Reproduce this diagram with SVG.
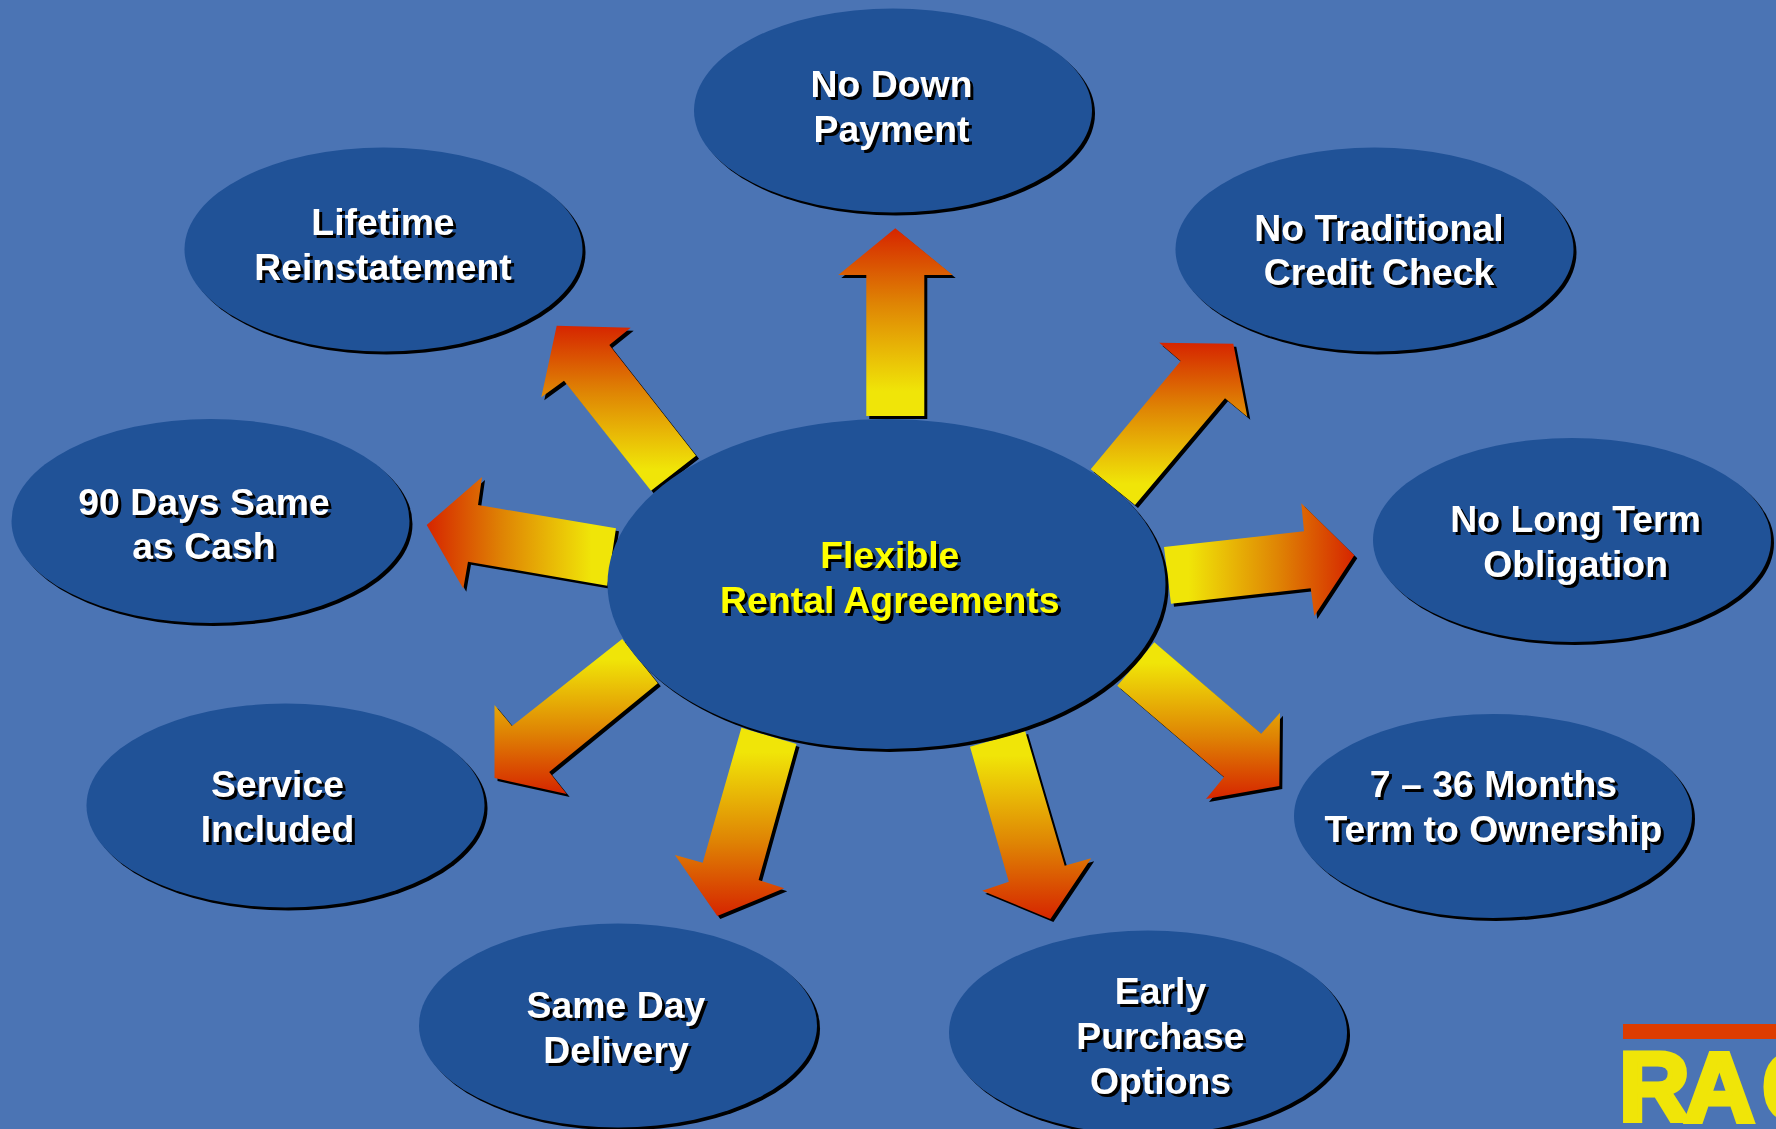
<svg xmlns="http://www.w3.org/2000/svg" width="1776" height="1129" viewBox="0 0 1776 1129">
<style>
.n{fill:#205297;filter:url(#sh)}
.t{font-family:"Liberation Sans",Arial,sans-serif;font-weight:700;font-size:37.4px;fill:#fff;text-anchor:middle;filter:url(#sh)}
.y{fill:#ffff00}
</style>
<defs>
<filter id="sh" x="-10%" y="-10%" width="120%" height="120%" color-interpolation-filters="sRGB"><feDropShadow dx="3" dy="3" stdDeviation="0.4" flood-color="#000"/></filter>
<linearGradient id="gu" x1="0" y1="1" x2="0" y2="0"><stop offset="0.13" stop-color="#F0E508"/><stop offset="0.6" stop-color="#DF8404"/><stop offset="1" stop-color="#D62500"/></linearGradient>
<linearGradient id="gd" x1="0" y1="0" x2="0" y2="1"><stop offset="0.13" stop-color="#F0E508"/><stop offset="0.6" stop-color="#DF8404"/><stop offset="1" stop-color="#D62500"/></linearGradient>
<linearGradient id="gl" x1="1" y1="0" x2="0" y2="0"><stop offset="0.13" stop-color="#F0E508"/><stop offset="0.6" stop-color="#DF8404"/><stop offset="1" stop-color="#D62500"/></linearGradient>
<linearGradient id="gr" x1="0" y1="0" x2="1" y2="0"><stop offset="0.13" stop-color="#F0E508"/><stop offset="0.6" stop-color="#DF8404"/><stop offset="1" stop-color="#D62500"/></linearGradient>
</defs>
<rect width="1776" height="1129" fill="#4B74B4"/>
<g id="connectors" filter="url(#sh)">
<polygon fill="url(#gu)" points="866.3,416 866.3,275 838.3,275 895.3,228.3 952.7,275 924.3,275 924.3,416"/>
<polygon fill="url(#gu)" points="1090.7,469.3 1180.7,361 1159.3,342.7 1233.3,343.7 1247.3,416.7 1225,398.3 1135,505"/>
<polygon fill="url(#gu)" points="696,455.7 609.3,345 630.7,327.7 556.7,325.7 541.3,397.3 564,380.7 651,490.7"/>
<polygon fill="url(#gl)" points="616,528.3 478,505 482,477 426.7,525 463.3,588.7 468,561.7 607.3,585.7"/>
<polygon fill="url(#gd)" points="622.2,639 512,726 494.5,705 494.5,778 566.7,794 549.2,772 657.8,683.3"/>
<polygon fill="url(#gd)" points="741.4,727.7 702.7,862.7 674.9,855 717.3,916 784.3,888.3 758.6,880 796.5,744"/>
<polygon fill="url(#gd)" points="970,746.7 1008.8,881.7 982.2,890.7 1050.4,919 1091.2,858.3 1064.7,865.7 1025.1,731"/>
<polygon fill="url(#gr)" points="1164,547 1304,531.3 1301.3,503.3 1354.3,555.3 1314.3,616 1310.7,588.3 1171,603.7"/>
<polygon fill="url(#gd)" points="1154.3,642.3 1261.3,733.7 1280,712.7 1279.3,786 1206,799 1224,777 1117.3,685.7"/>
</g>
<g id="node-center"><ellipse class="n" cx="886.5" cy="584" rx="279" ry="165"/><text class="t y" x="889.8" y="567.7">Flexible</text><text class="t y" x="889.8" y="613">Rental Agreements</text></g>
<g id="node-top"><ellipse class="n" cx="893" cy="110.5" rx="199" ry="102"/><text class="t" x="891.5" y="97">No Down</text><text class="t" x="891.5" y="141.5">Payment</text></g>
<g id="node-ne"><ellipse class="n" cx="1374.5" cy="249.5" rx="199" ry="102"/><text class="t" x="1379" y="240.7">No Traditional</text><text class="t" x="1379" y="285">Credit Check</text></g>
<g id="node-e"><ellipse class="n" cx="1572" cy="540" rx="199" ry="102"/><text class="t" x="1575.6" y="532">No Long Term</text><text class="t" x="1575.6" y="576.5">Obligation</text></g>
<g id="node-se"><ellipse class="n" cx="1493" cy="816" rx="199" ry="102"/><text class="t" x="1493.5" y="797">7 – 36 Months</text><text class="t" x="1493.5" y="841.5">Term to Ownership</text></g>
<g id="node-sse"><ellipse class="n" cx="1148" cy="1032.5" rx="199" ry="102"/><text class="t" x="1160.5" y="1004">Early</text><text class="t" x="1160.5" y="1049">Purchase</text><text class="t" x="1160.5" y="1094">Options</text></g>
<g id="node-ssw"><ellipse class="n" cx="618" cy="1025.5" rx="199" ry="102"/><text class="t" x="616" y="1018">Same Day</text><text class="t" x="616" y="1062.5">Delivery</text></g>
<g id="node-sw"><ellipse class="n" cx="285.5" cy="805.5" rx="199" ry="102"/><text class="t" x="277.5" y="797">Service</text><text class="t" x="277.5" y="841.5">Included</text></g>
<g id="node-w"><ellipse class="n" cx="210.5" cy="521" rx="199" ry="102"/><text class="t" x="204" y="515">90 Days Same</text><text class="t" x="204" y="559">as Cash</text></g>
<g id="node-nw"><ellipse class="n" cx="383.5" cy="249.5" rx="199" ry="102"/><text class="t" x="383" y="235">Lifetime</text><text class="t" x="383" y="279.5">Reinstatement</text></g>
<g id="logo"><rect x="1623" y="1024" width="153" height="15" fill="#DD3C00"/><text x="1619 1684 1762" y="1121" font-family="'Liberation Sans',Arial,sans-serif" font-weight="700" font-size="98" fill="#F0E508" stroke="#F0E508" stroke-width="5">RAC</text></g>
</svg>
